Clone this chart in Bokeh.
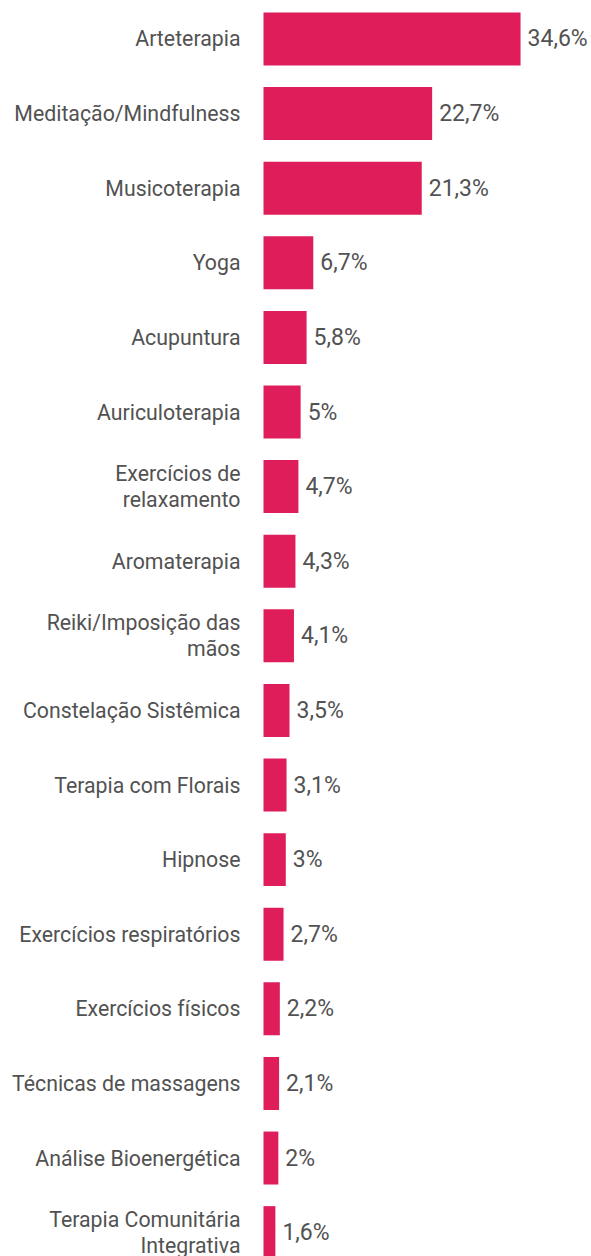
from bokeh.plotting import figure
from bokeh.models import ColumnDataSource, Range1d
from bokeh.core.properties import value
from bokeh.embed import file_html
from bokeh.resources import INLINE

categories = [
    "Arteterapia",
    "Meditação/Mindfulness",
    "Musicoterapia",
    "Yoga",
    "Acupuntura",
    "Auriculoterapia",
    "Exercícios de\nrelaxamento",
    "Aromaterapia",
    "Reiki/Imposição das\nmãos",
    "Constelação Sistêmica",
    "Terapia com Florais",
    "Hipnose",
    "Exercícios respiratórios",
    "Exercícios físicos",
    "Técnicas de massagens",
    "Análise Bioenergética",
    "Terapia Comunitária\nIntegrativa",
]
values = [34.6, 22.7, 21.3, 6.7, 5.8, 5.0, 4.7, 4.3, 4.1, 3.5, 3.1, 3.0, 2.7, 2.2, 2.1, 2.0, 1.6]
value_labels = [f"{v:g}".replace(".", ",") + "%" for v in values]

rows = list(range(len(categories)))
src = ColumnDataSource(dict(y=rows, v=values, cat=categories, lab=value_labels,
                            zero=[0] * len(rows)))

W, H = 591, 1256
p = figure(width=W, height=H, output_backend="svg", toolbar_location=None,
           x_range=Range1d(-35.40, 44.15), y_range=Range1d(16.32, -0.516),
           min_border=0, min_border_left=0, min_border_right=0,
           min_border_top=0, min_border_bottom=0)
p.axis.visible = False
p.grid.visible = False
p.outline_line_color = None
p.background_fill_color = "white"

p.hbar(y="y", left="zero", right="v", height=0.71, source=src,
       fill_color="#DF1D5A", line_color=None)

p.text(x="zero", y="y", text="cat", source=src, x_offset=-23,
       text_align="right", text_baseline="middle",
       text_font=value("Roboto"), text_font_size="21.3px",
       text_color="#525252", text_line_height=1.05)

p.text(x="v", y="y", text="lab", source=src, x_offset=7,
       text_align="left", text_baseline="middle",
       text_font=value("Roboto"), text_font_size="23px",
       text_color="#525252")

open("out.html", "w").write(file_html(p, INLINE))
